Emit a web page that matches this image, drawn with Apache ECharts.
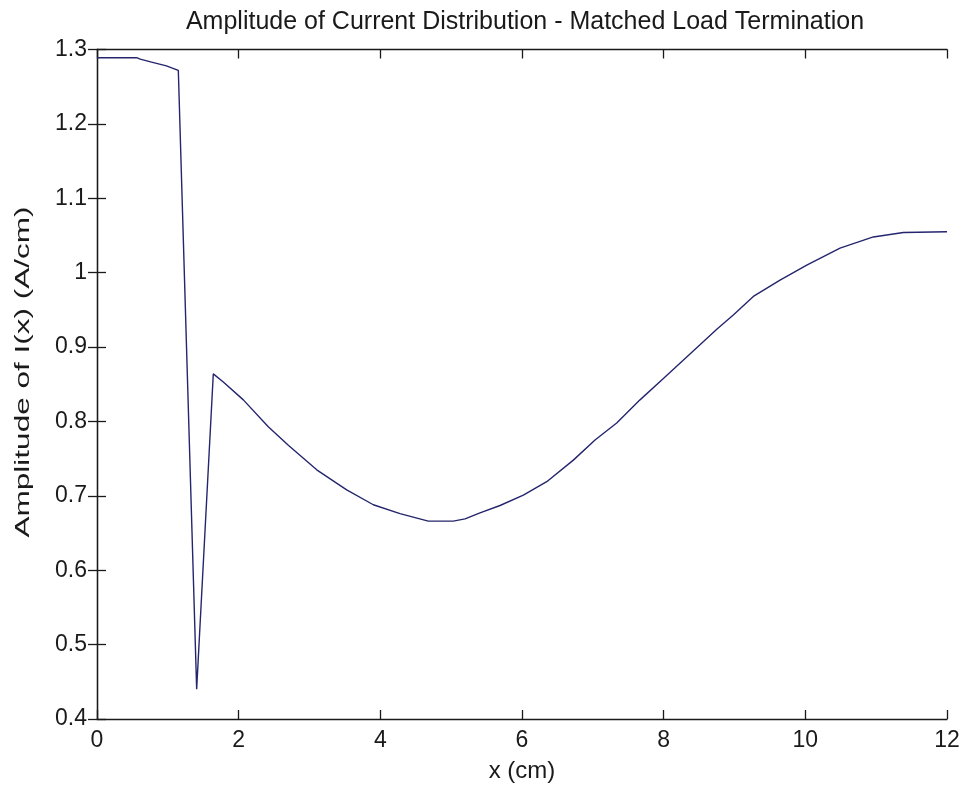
<!DOCTYPE html>
<html>
<head>
<meta charset="utf-8">
<script src="https://cdn.jsdelivr.net/npm/echarts@6/dist/echarts.min.js"></script>
<style>
html,body{margin:0;padding:0;background:#fff;}
#chart{width:967px;height:792px;}
</style>
</head>
<body>
<div id="chart"></div>
<script>
// x positions (cm)
const xValues = [0, 0.56, 0.61, 0.77, 0.98, 1.148, 1.407, 1.642, 1.783, 2.066, 2.418, 2.701, 3.102, 3.525, 3.901, 4.278, 4.677, 5.03, 5.196, 5.407, 5.69, 6.019, 6.349, 6.725, 7.031, 7.337, 7.666, 8.0, 8.513, 8.75, 8.983, 9.266, 9.643, 10.02, 10.49, 10.96, 11.384, 12];
// amplitude of I(x) (A/cm)
const ampValues = [1.289, 1.289, 1.287, 1.283, 1.278, 1.272, 0.44, 0.864, 0.853, 0.829, 0.793, 0.768, 0.735, 0.708, 0.688, 0.676, 0.666, 0.666, 0.669, 0.677, 0.687, 0.701, 0.719, 0.748, 0.775, 0.798, 0.829, 0.858, 0.903, 0.924, 0.943, 0.968, 0.990, 1.010, 1.033, 1.048, 1.054, 1.055];
const titleText = 'Amplitude of Current Distribution - Matched Load Termination';
const xName = 'x (cm)';
const yName = 'Amplitude of I(x) (A/cm)';

const seriesData = xValues.map((x, i) => [x, ampValues[i]]);
const font = 'Liberation Sans, Arial, Helvetica, sans-serif';
const ink = '#1a1a1a';

const chart = echarts.init(document.getElementById('chart'), null, {renderer: 'canvas'});
const axisLineStyle = {show: true, lineStyle: {color: ink, width: 1.3}};
const tickStyle = {show: true, inside: true, length: 9, lineStyle: {color: ink, width: 1.3}};
chart.setOption({
  animation: false,
  backgroundColor: '#ffffff',
  title: {
    text: titleText,
    left: 520, top: 5, textAlign: 'center',
    textStyle: {fontFamily: font, fontSize: 25, fontWeight: 'normal', color: ink}
  },
  grid: {left: 97, right: 20, top: 49.5, bottom: 73, containLabel: false},
  graphic: [{
    type: 'text',
    x: 23, y: 372,
    rotation: Math.PI / 2,
    scaleX: 1.5, scaleY: 1,
    style: {
      text: yName,
      font: '21px ' + font,
      fill: ink,
      align: 'center',
      verticalAlign: 'middle'
    }
  }],
  xAxis: [{
    type: 'value', min: 0, max: 12, interval: 2,
    name: xName, nameLocation: 'middle', nameGap: 40,
    nameTextStyle: {fontFamily: font, fontSize: 24, color: ink},
    axisLine: axisLineStyle, axisTick: tickStyle,
    axisLabel: {fontFamily: font, fontSize: 23, color: ink, margin: 10},
    splitLine: {show: false}
  }, {
    type: 'value', min: 0, max: 12, interval: 2, position: 'top',
    axisLine: axisLineStyle, axisTick: tickStyle,
    axisLabel: {show: false}, splitLine: {show: false}
  }],
  yAxis: [{
    type: 'value', min: 0.4, max: 1.3, interval: 0.1,
    axisLine: axisLineStyle, axisTick: tickStyle,
    axisLabel: {fontFamily: font, fontSize: 23, color: ink, margin: 10,
      formatter: v => String(+v.toFixed(1))},
    splitLine: {show: false}
  }, {
    type: 'value', min: 0.4, max: 1.3, interval: 0.1, position: 'right',
    axisLine: axisLineStyle, axisTick: tickStyle,
    axisLabel: {show: false}, splitLine: {show: false}
  }],
  series: [{
    type: 'line',
    data: seriesData,
    showSymbol: false,
    symbol: 'none',
    lineStyle: {color: '#25256e', width: 1.4},
    xAxisIndex: 0, yAxisIndex: 0
  }]
});
</script>
</body>
</html>
